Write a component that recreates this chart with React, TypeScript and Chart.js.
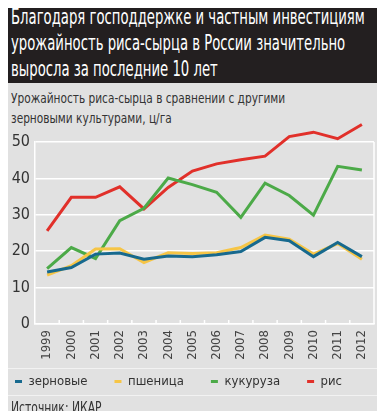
import React, { useEffect, useRef } from "react";
import { Chart, registerables } from "chart.js";

Chart.register(...registerables);

const years = ["1999","2000","2001","2002","2003","2004","2005","2006","2007","2008","2009","2010","2011","2012"];
const grain = [14.3, 15.5, 19.2, 19.5, 17.8, 18.7, 18.5, 19.0, 19.9, 23.8, 22.9, 18.5, 22.4, 18.5];
const wheat = [13.4, 16.0, 20.6, 20.7, 16.9, 19.6, 19.4, 19.6, 21.0, 24.4, 23.3, 19.2, 22.1, 17.8];
const corn = [15.2, 21.0, 18.0, 28.4, 31.8, 40.1, 38.3, 36.2, 29.3, 38.7, 35.3, 29.9, 43.3, 42.3];
const rice = [25.6, 34.8, 34.8, 37.7, 31.6, 37.5, 42.0, 44.0, 45.1, 46.1, 51.5, 52.7, 50.9, 54.8];
const yTicks = [0, 10, 20, 30, 40, 50];

const FONT = "'DejaVu Sans Condensed', 'Liberation Sans Narrow', sans-serif";

const framePlugin = {
  id: "framePlugin",
  afterLayout(chart: any) {
    const x = chart.scales.x;
    x.bottom = x.top + 52;
  },
  beforeDatasetsDraw(chart: any) {
    const { ctx, chartArea } = chart;
    const x = chart.scales.x;
    ctx.save();
    ctx.strokeStyle = "#ffffff";
    ctx.lineWidth = 1.5;
    ctx.beginPath();
    ctx.moveTo(chartArea.right, chartArea.top);
    ctx.lineTo(chartArea.right, chartArea.bottom);
    const n = years.length;
    for (let i = 1; i < n; i++) {
      const px = (x.getPixelForValue(i - 1) + x.getPixelForValue(i)) / 2;
      ctx.moveTo(px, chartArea.bottom);
      ctx.lineTo(px, chartArea.bottom - 4);
    }
    ctx.stroke();
    ctx.restore();
  },
};

export default function App() {
  const ref = useRef<HTMLCanvasElement>(null);
  useEffect(() => {
    const mk = (label: string, data: number[], color: string) => ({
      label,
      data,
      borderColor: color,
      backgroundColor: color,
      borderWidth: 3,
      pointRadius: 0,
      tension: 0,
      clip: false as any,
    });
    const chart = new Chart(ref.current!, {
      type: "line",
      data: {
        labels: years,
        datasets: [
          mk("зерновые", grain, "#17698e"),
          mk("пшеница", wheat, "#f6c546"),
          mk("кукуруза", corn, "#4caa48"),
          mk("рис", rice, "#e1302a"),
        ],
      },
      options: {
        animation: false,
        responsive: true,
        maintainAspectRatio: false,
        layout: { padding: { top: 24, right: 11, left: 0, bottom: 0 } },
        plugins: {
          legend: {
            position: "bottom",
            align: "start",
            labels: {
              boxWidth: 7,
              boxHeight: 3,
              padding: 27,
              color: "#333333",
              font: { family: FONT, size: 13 },
              generateLabels(chart: any) {
                return Chart.defaults.plugins.legend.labels
                  .generateLabels(chart)
                  .map((l: any) => ({ ...l, lineWidth: 0, strokeStyle: "rgba(0,0,0,0)" }));
              },
            },
          },
          tooltip: { enabled: false },
        },
        scales: {
          x: {
            offset: true,
            grid: { display: false, drawTicks: false },
            border: { color: "#ffffff", width: 1.5 },
            ticks: {
              maxRotation: 90,
              minRotation: 90,
              autoSkip: false,
              color: "#444444",
              padding: 6,
              font: { family: FONT, size: 13 },
            },
            afterFit(scale: any) {
              scale.height = 24;
            },
          },
          y: {
            min: 0,
            max: 50,
            afterBuildTicks(scale: any) {
              scale.ticks = yTicks.map((v) => ({ value: v }));
            },
            grid: { color: "#ffffff", lineWidth: 1.5, drawTicks: false },
            border: { color: "#ffffff", width: 1.5 },
            ticks: {
              color: "#333333",
              padding: 5,
              font: { family: FONT, size: 16 },
            },
            afterFit(scale: any) {
              scale.width = 47;
            },
          },
        },
      },
      plugins: [framePlugin],
    });
    return () => chart.destroy();
  }, []);

  const squeeze = (s: number): React.CSSProperties => ({
    transform: `scaleX(${s})`,
    transformOrigin: "0 0",
    whiteSpace: "nowrap",
  });

  return (
    <div style={{ position: "relative", width: 385, height: 419, background: "#e1e1e1", fontFamily: FONT, margin: -8, overflow: "hidden" }}>
      <div style={{ position: "absolute", left: 0, top: 0, width: 385, height: 83, background: "#231f20" }} />
      <div style={{ position: "absolute", left: 11, top: 4, color: "#ffffff", fontSize: 21, lineHeight: "26px", ...squeeze(0.7) }}>
        Благодаря господдержке и частным инвестициям<br />
        урожайность риса-сырца в России значительно<br />
        выросла за последние 10 лет
      </div>
      <div style={{ position: "absolute", left: 11, top: 88, color: "#333333", fontSize: 14, lineHeight: "20px", ...squeeze(0.84) }}>
        Урожайность риса-сырца в сравнении с другими<br />
        зерновыми культурами, ц/га
      </div>
      <div style={{ position: "absolute", left: -12, top: 118, width: 397, height: 280 }}>
        <canvas ref={ref} />
      </div>
      <div style={{ position: "absolute", left: 0, top: 368, width: 383, height: 0, borderTop: "1.5px solid #f2f2f2" }} />
      <div style={{ position: "absolute", left: 0, top: 395, width: 383, height: 0, borderTop: "1.5px solid #f2f2f2" }} />
      <div style={{ position: "absolute", left: 11, top: 399, color: "#333333", fontSize: 15, lineHeight: "18px", ...squeeze(0.8) }}>
        Источник: ИКАР
      </div>
    </div>
  );
}
